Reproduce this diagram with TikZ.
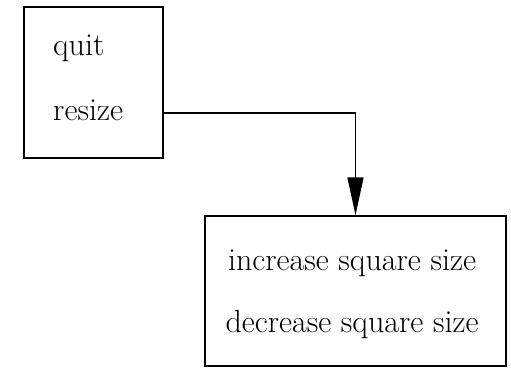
\documentclass[tikz,border=0pt]{standalone}
\usetikzlibrary{arrows.meta}
\begin{document}
\begin{tikzpicture}[x=1pt,y=1pt,
  box/.style={draw,line width=1.4pt,rectangle,inner sep=0pt},
  lbl/.style={font=\fontsize{32}{38}\selectfont,inner sep=0pt},
  conn/.style={line width=1.4pt,-{Triangle[length=38pt,width=16pt]}}]
\useasboundingbox (0,0) rectangle (511,-368);
\node[box,minimum width=139pt,minimum height=151pt] (menu) at (93.5,-82.5) {};
\node[box,minimum width=301pt,minimum height=150pt] (sub) at (355.5,-291) {};
\node[lbl,anchor=base west] (quit) at (53,-55) {quit};
\node[lbl,anchor=base west] (resize) at (53,-120) {resize};
\node[lbl,anchor=base] (inc) at (352,-270) {increase square size};
\node[lbl,anchor=base] (dec) at (352,-332) {decrease square size};
\draw[conn] ([yshift=-30.5pt]menu.east) -| (sub.north);
\end{tikzpicture}
\end{document}
